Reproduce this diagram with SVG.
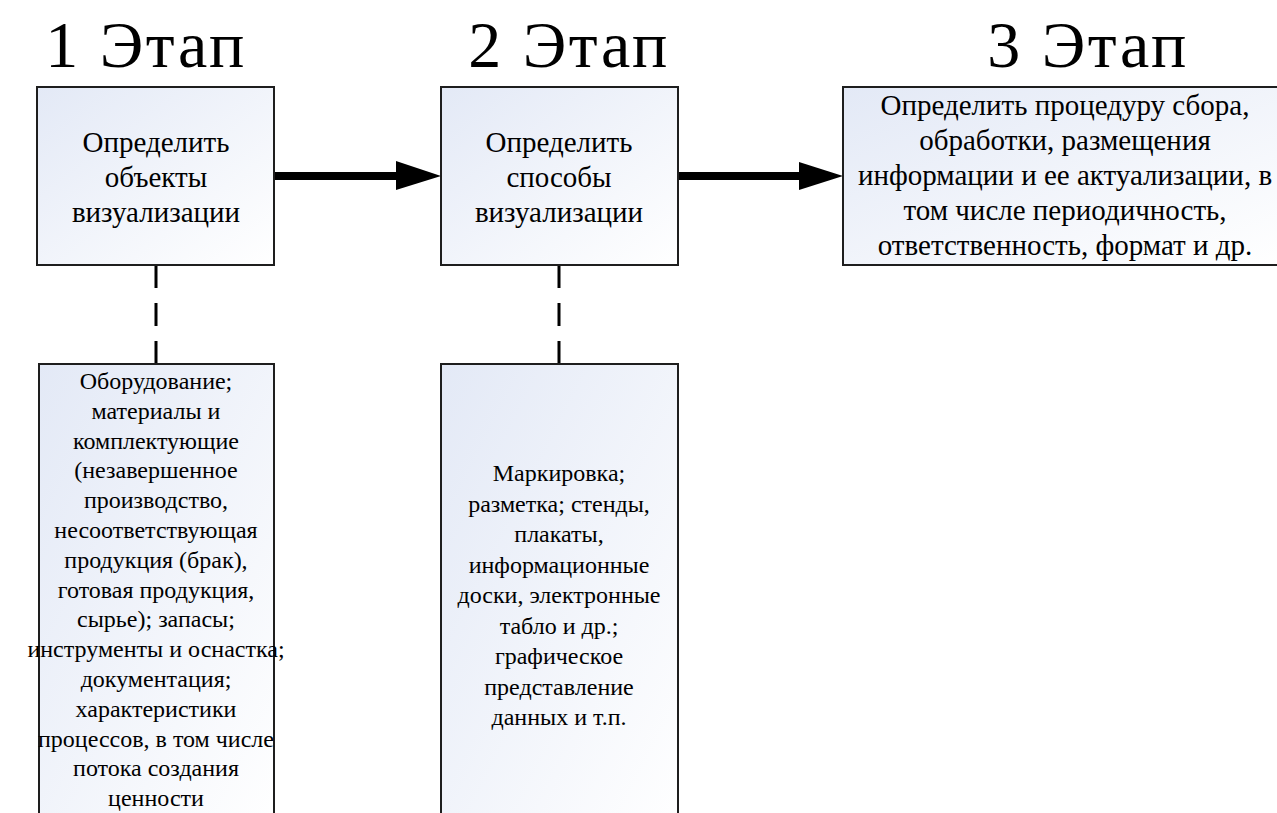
<svg xmlns="http://www.w3.org/2000/svg" width="1277" height="813" viewBox="0 0 1277 813">
<defs>
<linearGradient id="g" x1="0" y1="0" x2="1" y2="1">
<stop offset="0" stop-color="#e3e9f6"/>
<stop offset="1" stop-color="#ffffff"/>
</linearGradient>
<style>
.box{fill:url(#g);stroke:#1e1e1e;stroke-width:2}
.t{fill:#000;text-anchor:middle}
.title{font-size:66px;letter-spacing:2.5px}
.big{font-size:29px}
.small{font-size:24px}
.arrow{stroke:#000;stroke-width:8;stroke-linecap:round;fill:none}
.dash{stroke:#000;stroke-width:3;stroke-dasharray:23 15;fill:none}
</style>
</defs>
<rect width="1277" height="813" fill="#fff"/>
<g id="titles" font-family="Liberation Serif, DejaVu Serif, serif">
<text class="t title" x="146" y="67">1 Этап</text>
<text class="t title" x="569" y="67">2 Этап</text>
<text class="t title" x="1088" y="67">3 Этап</text>
</g>
<g id="connectors">
<line class="arrow" x1="273" y1="176" x2="400" y2="176"/>
<polygon points="396,161 441,176 396,190" fill="#000"/>
<line class="arrow" x1="677" y1="176" x2="803" y2="176"/>
<polygon points="799,162 843,176 799,190" fill="#000"/>
<line class="dash" x1="156" y1="265" x2="156" y2="364"/>
<line class="dash" x1="559" y1="265" x2="559" y2="364"/>
</g>
<g id="node1" font-family="Liberation Serif, DejaVu Serif, serif">
<rect class="box" x="37" y="87" width="237" height="178"/>
<text class="t big"><tspan x="156" y="152">Определить</tspan><tspan x="156" y="187">объекты</tspan><tspan x="156" y="222">визуализации</tspan></text>
</g>
<g id="node2" font-family="Liberation Serif, DejaVu Serif, serif">
<rect class="box" x="441" y="87" width="237" height="178"/>
<text class="t big"><tspan x="559" y="152">Определить</tspan><tspan x="559" y="187">способы</tspan><tspan x="559" y="222">визуализации</tspan></text>
</g>
<g id="node3" font-family="Liberation Serif, DejaVu Serif, serif">
<rect class="box" x="843" y="87" width="440" height="178"/>
<text class="t big"><tspan x="1065" y="115">Определить процедуру сбора,</tspan><tspan x="1065" y="150">обработки, размещения</tspan><tspan x="1065" y="185">информации и ее актуализации, в</tspan><tspan x="1065" y="220">том числе периодичность,</tspan><tspan x="1065" y="255">ответственность, формат и др.</tspan></text>
</g>
<g id="node4" font-family="Liberation Serif, DejaVu Serif, serif">
<rect class="box" x="39" y="364" width="235" height="470"/>
<text class="t small"><tspan x="156" y="389">Оборудование;</tspan><tspan x="156" y="418.8">материалы и</tspan><tspan x="156" y="448.6">комплектующие</tspan><tspan x="156" y="478.4">(незавершенное</tspan><tspan x="156" y="508.2">производство,</tspan><tspan x="156" y="538">несоответствующая</tspan><tspan x="156" y="567.8">продукция (брак),</tspan><tspan x="156" y="597.6">готовая продукция,</tspan><tspan x="156" y="627.4">сырье); запасы;</tspan><tspan x="156" y="657.2">инструменты и оснастка;</tspan><tspan x="156" y="687">документация;</tspan><tspan x="156" y="716.8">характеристики</tspan><tspan x="156" y="746.6">процессов, в том числе</tspan><tspan x="156" y="776.4">потока создания</tspan><tspan x="156" y="806">ценности</tspan></text>
</g>
<g id="node5" font-family="Liberation Serif, DejaVu Serif, serif">
<rect class="box" x="441" y="364" width="237" height="470"/>
<text class="t small"><tspan x="559" y="481">Маркировка;</tspan><tspan x="559" y="511.5">разметка; стенды,</tspan><tspan x="559" y="542">плакаты,</tspan><tspan x="559" y="572.5">информационные</tspan><tspan x="559" y="603">доски, электронные</tspan><tspan x="559" y="633.5">табло и др.;</tspan><tspan x="559" y="664">графическое</tspan><tspan x="559" y="694.5">представление</tspan><tspan x="559" y="725">данных и т.п.</tspan></text>
</g>
</svg>
